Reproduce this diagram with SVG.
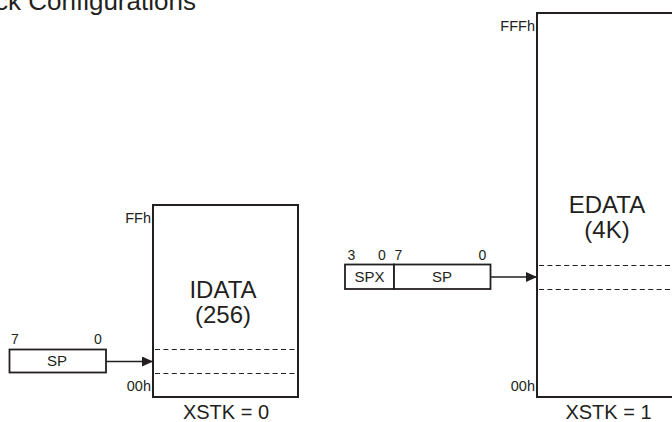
<svg xmlns="http://www.w3.org/2000/svg" width="672" height="422" viewBox="0 0 672 422">
<defs>
<marker id="ah" viewBox="0 0 11 10" refX="11" refY="5" markerWidth="11" markerHeight="10" markerUnits="userSpaceOnUse" orient="auto">
<path d="M0,0 L11,5 L0,10 Z" fill="#231f20"/>
</marker>
</defs>
<style>
.box{fill:#fff;stroke:#231f20;stroke-width:2}
.reg{fill:#fff;stroke:#231f20;stroke-width:1.8}
.dash{stroke:#231f20;stroke-width:1;stroke-dasharray:5 3.4;fill:none}
.conn{stroke:#231f20;stroke-width:1.4;fill:none}
.big{font-family:"Liberation Sans",Arial,sans-serif;font-size:24px;fill:#231f20;text-anchor:middle}
.cap{font-family:"Liberation Sans",Arial,sans-serif;font-size:20px;fill:#231f20;text-anchor:middle}
.addr{font-family:"Liberation Sans",Arial,sans-serif;font-size:14.5px;fill:#231f20;text-anchor:end}
.lbl{font-family:"Liberation Sans",Arial,sans-serif;font-size:15px;fill:#231f20;text-anchor:middle}
.bit{font-family:"Liberation Sans",Arial,sans-serif;font-size:14px;fill:#231f20;text-anchor:middle}
.title{font-family:"Liberation Sans",Arial,sans-serif;font-size:26px;fill:#231f20}
</style>
<rect width="672" height="422" fill="#fff"/>
<text class="title" x="-44" y="10">Stack Configurations</text>

<g id="idata">
<rect class="box" x="153" y="205" width="145" height="192"/>
<line class="dash" x1="155" y1="349.5" x2="298" y2="349.5"/>
<line class="dash" x1="155" y1="373.5" x2="298" y2="373.5"/>
<text class="big" x="223" y="298">IDATA</text>
<text class="big" x="223" y="323">(256)</text>
<text class="addr" x="151" y="223">FFh</text>
<text class="addr" x="151" y="391">00h</text>
<text class="cap" x="226" y="419">XSTK = 0</text>
</g>

<g id="sp0">
<rect class="reg" x="9.5" y="349.5" width="96.5" height="23"/>
<text class="lbl" x="57" y="366">SP</text>
<text class="bit" x="15" y="343.5">7</text>
<text class="bit" x="98" y="343.5">0</text>
</g>

<g id="edata">
<rect class="box" x="537" y="13" width="150" height="384"/>
<line class="dash" x1="539" y1="265.5" x2="672" y2="265.5"/>
<line class="dash" x1="539" y1="289.5" x2="672" y2="289.5"/>
<text class="big" x="607" y="213">EDATA</text>
<text class="big" x="607" y="238">(4K)</text>
<text class="addr" x="535" y="31">FFFh</text>
<text class="addr" x="535" y="391">00h</text>
<text class="cap" x="608.5" y="419">XSTK = 1</text>
</g>

<g id="spx">
<rect class="reg" x="345" y="264.5" width="49" height="24.5"/>
<text class="lbl" x="369.5" y="282">SPX</text>
<text class="bit" x="351.5" y="259.5">3</text>
<text class="bit" x="382" y="259.5">0</text>
</g>

<g id="sp1">
<rect class="reg" x="394" y="264.5" width="96.5" height="24.5"/>
<text class="lbl" x="442" y="282">SP</text>
<text class="bit" x="398.5" y="259.5">7</text>
<text class="bit" x="482.5" y="259.5">0</text>
</g>

<g id="connectors">
<line class="conn" x1="106" y1="361.5" x2="153" y2="361.5" marker-end="url(#ah)"/>
<line class="conn" x1="490.5" y1="277" x2="537" y2="277" marker-end="url(#ah)"/>
</g>
</svg>
